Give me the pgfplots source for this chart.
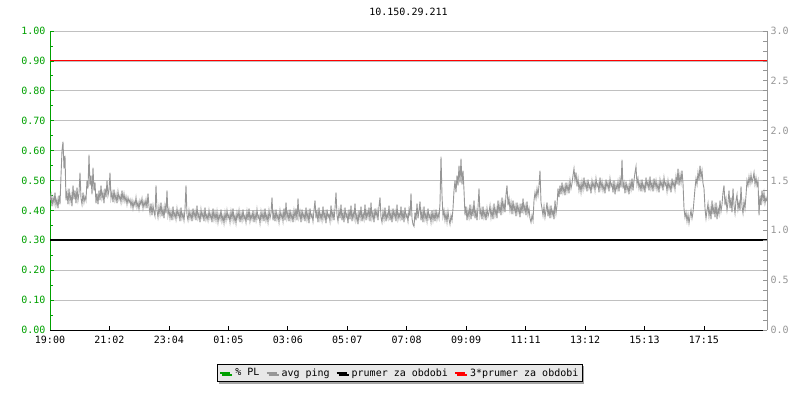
\documentclass[border=0pt]{standalone}
\usepackage{fontspec}
\setmainfont{DejaVu Sans Mono}
\usepackage{pgfplots}
\pgfplotsset{compat=1.18}
\usetikzlibrary{shadows}
\definecolor{plgreen}{RGB}{0,160,0}
\definecolor{pinggray}{RGB}{150,150,150}
\definecolor{gridgray}{RGB}{192,192,192}
\definecolor{leggray}{RGB}{232,232,232}
\begin{document}
\fontsize{10}{12}\selectfont
\begin{tikzpicture}[x=1pt,y=1pt]
\path[use as bounding box] (0,0) rectangle (800,400);
\begin{axis}[
  at={(50pt,70pt)}, anchor=south west,
  scale only axis, width=717pt, height=299pt,
  xmin=0, xmax=717, ymin=0, ymax=1,
  axis x line*=bottom, axis y line*=left,
  x axis line style={black, line width=0.8pt},
  y axis line style={plgreen, line width=0.8pt},
  tick align=inside, major tick length=4pt, minor tick length=3pt,
  ytick={0,0.1,...,1.01}, minor ytick={0.05,0.15,...,0.96},
  y tick style={plgreen, line width=0.8pt},
  x tick style={black, line width=0.8pt},
  ymajorgrids, grid style={gridgray, line width=0.8pt},
  xtick={0,59.45,118.9,178.35,237.8,297.25,356.7,416.15,475.6,535.05,594.5,653.95},
  xticklabels={19:00,21:02,23:04,01:05,03:06,05:07,07:08,09:09,11:11,13:12,15:13,17:15},
  /pgf/number format/assume math mode=true,
  yticklabel style={plgreen, /pgf/number format/.cd, fixed, fixed zerofill, precision=2},
  yticklabel shift=1pt,
  xticklabel shift=3pt,
  xticklabel style={black},
  tick label style={font=\fontsize{10}{12}\selectfont},
  title={10.150.29.211},
  title style={at={(axis description cs:0.5,1)}, anchor=center, yshift=13pt, font=\fontsize{10}{12}\selectfont},
  legend columns=4,
  legend style={at={(axis description cs:0.488,-0.1438)}, anchor=center,
    fill=leggray, draw=black, line width=0.8pt,
    drop shadow={shadow xshift=2pt, shadow yshift=-2pt, fill=gray!70, opacity=1},
    font=\fontsize{10}{12}\selectfont, inner sep=2pt,
    /tikz/every odd column/.append style={column sep=2pt},
    /tikz/every even column/.append style={column sep=4pt}},
  legend image code/.code={\draw[#1] (0pt,0pt) -- (10pt,0pt);},
]
\addlegendimage{plgreen, line width=2pt}
\addlegendentry{\% PL}
\addlegendimage{pinggray, line width=2pt}
\addlegendentry{avg ping}
\addplot[black, line width=2pt] coordinates {(0,0.3) (717,0.3)};
\addlegendentry{prumer za obdobi}
\addplot[red, line width=1pt, forget plot] coordinates {(0,0.9) (717,0.9)};
\addlegendimage{red, line width=2pt}
\addlegendentry{3*prumer za obdobi}
\end{axis}
\begin{axis}[
  at={(50pt,70pt)}, anchor=south west,
  scale only axis, width=717pt, height=299pt,
  xmin=0, xmax=717, ymin=0, ymax=3,
  axis x line=none, axis y line*=right,
  y axis line style={pinggray, line width=0.8pt},
  tick align=inside, major tick length=4pt, minor tick length=4pt,
  ytick={0,0.5,...,3.01}, minor ytick={0.1,0.2,0.3,0.4,0.6,0.7,0.8,0.9,1.1,1.2,1.3,1.4,1.6,1.7,1.8,1.9,2.1,2.2,2.3,2.4,2.6,2.7,2.8,2.9},
  y tick style={pinggray, line width=0.8pt},
  /pgf/number format/assume math mode=true,
  yticklabel style={pinggray, /pgf/number format/.cd, fixed, fixed zerofill, precision=1},
  tick label style={font=\fontsize{10}{12}\selectfont},
]
\addplot[pinggray, line width=0.9pt] coordinates {
(0,1.30)(1,1.36)(2,1.24)(3,1.33)(4,1.27)(5,1.38)(6,1.25)(7,1.31)(8,1.22)(9,1.35)(10,1.26)
(11,1.55)(12,1.80)(13,1.89)(14,1.62)(15,1.75)(16,1.30)
(17,1.38)(18,1.26)(19,1.42)(20,1.29)(21,1.36)(22,1.24)(23,1.45)(24,1.31)(25,1.40)(26,1.27)(27,1.43)(28,1.30)(29,1.37)(30,1.58)
(31,1.32)(32,1.26)(33,1.38)(34,1.28)(35,1.34)(36,1.30)
(37,1.50)(38,1.42)(39,1.76)(40,1.45)(41,1.55)(42,1.36)(43,1.63)(44,1.40)(45,1.48)
(46,1.27)(47,1.37)(48,1.26)(49,1.40)(50,1.30)(51,1.45)(52,1.32)(53,1.38)(54,1.27)(55,1.42)(56,1.33)(57,1.50)(58,1.35)
(59,1.40)(60,1.58)(61,1.32)(62,1.38)(63,1.28)(64,1.41)(65,1.30)(66,1.36)(67,1.27)(68,1.39)(69,1.31)(70,1.35)(71,1.28)(72,1.40)(73,1.30)(74,1.37)(75,1.29)(76,1.34)(77,1.26)(78,1.33)(79,1.28)(80,1.31)
(81,1.24)(82,1.30)(83,1.22)(84,1.29)(85,1.25)(86,1.33)(87,1.23)(88,1.28)(89,1.21)(90,1.30)(91,1.26)(92,1.32)(93,1.22)(94,1.29)(95,1.24)(96,1.31)(97,1.22)(98,1.37)
(99,1.24)(100,1.17)(101,1.27)(102,1.15)(103,1.25)(104,1.18)(105,1.14)(106,1.45)(107,1.20)(108,1.13)(109,1.24)(110,1.16)(111,1.28)(112,1.14)(113,1.22)(114,1.12)(115,1.25)(116,1.17)(117,1.40)(118,1.15)
(119,1.21)(120,1.12)(121,1.19)(122,1.10)(123,1.24)(124,1.13)(125,1.18)(126,1.11)(127,1.22)(128,1.14)(129,1.19)(130,1.09)(131,1.23)(132,1.12)(133,1.17)(134,1.10)(135,1.21)(136,1.45)(137,1.15)(138,1.10)(139,1.20)(140,1.12)(141,1.18)(142,1.09)(143,1.22)(144,1.13)(145,1.19)(146,1.10)(147,1.25)(148,1.12)(149,1.17)(150,1.08)(151,1.21)(152,1.13)(153,1.18)(154,1.09)(155,1.23)(156,1.11)(157,1.16)(158,1.10)(159,1.20)(160,1.12)(161,1.17)(162,1.08)(163,1.22)(164,1.11)(165,1.18)
(166,1.10)(167,1.19)(168,1.08)(169,1.16)(170,1.11)(171,1.21)(172,1.09)(173,1.15)(174,1.07)(175,1.18)(176,1.10)(177,1.20)(178,1.12)(179,1.16)(180,1.08)(181,1.19)(182,1.11)(183,1.22)(184,1.09)(185,1.15)(186,1.07)(187,1.18)(188,1.12)(189,1.20)(190,1.08)(191,1.17)(192,1.10)(193,1.21)(194,1.11)(195,1.15)(196,1.08)(197,1.19)(198,1.10)(199,1.22)(200,1.09)(201,1.16)(202,1.11)(203,1.20)(204,1.08)(205,1.17)(206,1.10)(207,1.21)(208,1.12)(209,1.15)(210,1.07)(211,1.19)(212,1.11)(213,1.18)(214,1.09)(215,1.22)(216,1.10)(217,1.16)(218,1.08)(219,1.20)(220,1.12)(221,1.17)(222,1.33)(223,1.10)(224,1.18)(225,1.09)(226,1.21)(227,1.11)(228,1.16)(229,1.08)(230,1.20)(231,1.12)(232,1.17)(233,1.09)(234,1.22)(235,1.10)(236,1.28)(237,1.12)(238,1.18)(239,1.09)(240,1.21)(241,1.11)(242,1.17)(243,1.08)
(244,1.20)(245,1.12)(246,1.22)(247,1.10)(248,1.32)(249,1.13)(250,1.19)(251,1.08)(252,1.21)(253,1.12)(254,1.17)(255,1.09)(256,1.23)(257,1.11)(258,1.18)(259,1.07)(260,1.22)(261,1.13)(262,1.16)(263,1.09)(264,1.20)(265,1.30)(266,1.12)(267,1.19)(268,1.08)(269,1.23)(270,1.11)(271,1.17)(272,1.10)(273,1.24)(274,1.12)(275,1.18)(276,1.07)(277,1.21)(278,1.13)(279,1.16)(280,1.09)(281,1.25)(282,1.12)(283,1.19)(284,1.10)(285,1.22)(286,1.38)(287,1.15)(288,1.09)(289,1.20)(290,1.12)(291,1.26)(292,1.10)(293,1.18)(294,1.08)(295,1.23)(296,1.13)(297,1.17)(298,1.07)(299,1.21)(300,1.11)(301,1.25)(302,1.09)(303,1.18)(304,1.12)(305,1.27)(306,1.10)(307,1.16)(308,1.06)(309,1.20)(310,1.12)(311,1.24)(312,1.09)(313,1.17)(314,1.11)(315,1.26)(316,1.10)(317,1.19)(318,1.13)(319,1.23)(320,1.09)(321,1.28)(322,1.12)(323,1.18)(324,1.08)(325,1.22)(326,1.14)(327,1.20)(328,1.10)(329,1.24)(330,1.33)(331,1.13)(332,1.08)(333,1.19)(334,1.11)(335,1.23)(336,1.09)(337,1.17)(338,1.12)(339,1.25)(340,1.10)(341,1.18)(342,1.08)(343,1.22)(344,1.13)(345,1.19)(346,1.09)(347,1.26)(348,1.11)(349,1.17)(350,1.12)(351,1.24)(352,1.10)(353,1.20)(354,1.08)(355,1.23)(356,1.13)(357,1.16)(358,1.09)(359,1.21)(360,1.14)(361,1.37)(362,1.12)(363,1.06)(364,1.04)(365,1.18)(366,1.10)(367,1.27)(368,1.12)(369,1.20)(370,1.29)(371,1.10)(372,1.19)(373,1.08)(374,1.24)(375,1.11)(376,1.17)(377,1.09)(378,1.22)(379,1.12)(380,1.16)(381,1.08)(382,1.20)(383,1.10)(384,1.18)(385,1.09)(386,1.21)(387,1.11)(388,1.17)(389,1.12)(390,1.27)
(391,1.74)(392,1.35)(393,1.14)(394,1.20)(395,1.10)(396,1.17)(397,1.08)(398,1.19)(399,1.11)(400,1.06)(401,1.15)(402,1.10)(403,1.22)(404,1.40)(405,1.50)(406,1.38)(407,1.55)(408,1.45)(409,1.65)(410,1.48)(411,1.72)(412,1.46)(413,1.60)(414,1.40)(415,1.15)(416,1.24)(417,1.10)(418,1.20)(419,1.13)(420,1.26)(421,1.11)(422,1.22)(423,1.14)(424,1.30)(425,1.12)(426,1.20)(427,1.10)(428,1.23)(429,1.42)(430,1.15)(431,1.21)(432,1.11)(433,1.24)(434,1.13)(435,1.19)(436,1.10)(437,1.22)(438,1.14)(439,1.18)(440,1.25)(441,1.13)(442,1.21)(443,1.11)(444,1.27)(445,1.15)(446,1.22)(447,1.12)(448,1.30)(449,1.17)(450,1.26)(451,1.15)(452,1.33)(453,1.20)(454,1.28)(455,1.18)(456,1.36)(457,1.45)(458,1.25)(459,1.32)(460,1.20)(461,1.28)(462,1.16)(463,1.30)(464,1.19)(465,1.25)(466,1.14)(467,1.28)(468,1.18)(469,1.24)(470,1.13)(471,1.27)(472,1.17)(473,1.32)(474,1.19)(475,1.25)(476,1.15)(477,1.29)(478,1.16)(479,1.22)(480,1.12)(481,1.08)(482,1.15)(483,1.10)(484,1.30)(485,1.38)(486,1.32)(487,1.42)(488,1.35)(489,1.45)(490,1.60)(491,1.28)(492,1.22)(493,1.15)(494,1.24)(495,1.13)(496,1.20)(497,1.28)(498,1.14)(499,1.22)(500,1.12)(501,1.25)(502,1.15)(503,1.20)(504,1.11)(505,1.30)(506,1.17)(507,1.25)(508,1.42)(509,1.33)(510,1.45)(511,1.36)(512,1.48)(513,1.38)(514,1.44)(515,1.35)(516,1.48)(517,1.39)(518,1.46)(519,1.37)(520,1.50)(521,1.42)(522,1.47)(523,1.55)(524,1.62)(525,1.50)(526,1.58)(527,1.44)(528,1.52)(529,1.40)(530,1.47)(531,1.38)(532,1.49)(533,1.41)(534,1.53)(535,1.43)(536,1.48)(537,1.39)(538,1.51)(539,1.42)(540,1.46)(541,1.37)(542,1.50)(543,1.43)(544,1.48)(545,1.40)(546,1.52)(547,1.44)(548,1.47)(549,1.38)(550,1.53)(551,1.42)(552,1.49)(553,1.40)(554,1.46)(555,1.37)(556,1.51)(557,1.43)(558,1.48)(559,1.39)(560,1.52)(561,1.44)(562,1.47)(563,1.38)(564,1.50)(565,1.36)(566,1.46)(567,1.41)(568,1.49)(569,1.39)(570,1.51)(571,1.43)(572,1.71)(573,1.42)(574,1.48)(575,1.37)(576,1.49)(577,1.40)(578,1.45)(579,1.36)(580,1.48)(581,1.41)(582,1.52)(583,1.40)(584,1.50)(585,1.58)(586,1.64)(587,1.46)(588,1.52)(589,1.42)(590,1.48)(591,1.39)(592,1.51)(593,1.41)(594,1.46)(595,1.38)(596,1.53)(597,1.44)(598,1.49)(599,1.40)(600,1.54)(601,1.42)(602,1.48)(603,1.39)(604,1.52)(605,1.43)(606,1.50)(607,1.41)(608,1.47)(609,1.38)(610,1.51)(611,1.44)(612,1.49)(613,1.40)(614,1.53)(615,1.45)(616,1.48)(617,1.39)(618,1.50)(619,1.42)(620,1.47)(621,1.38)(622,1.52)(623,1.44)(624,1.49)(625,1.41)(626,1.54)(627,1.46)(628,1.62)(629,1.45)(630,1.56)(631,1.48)(632,1.60)(633,1.47)(634,1.22)(635,1.13)(636,1.18)(637,1.09)(638,1.16)(639,1.07)(640,1.14)(641,1.20)(642,1.12)(643,1.18)(644,1.30)(645,1.42)(646,1.52)(647,1.46)(648,1.58)(649,1.50)(650,1.65)(651,1.53)(652,1.60)(653,1.47)(654,1.42)(655,1.22)(656,1.12)(657,1.20)(658,1.27)(659,1.14)(660,1.22)(661,1.11)(662,1.30)(663,1.16)(664,1.24)(665,1.13)(666,1.28)(667,1.11)(668,1.22)(669,1.16)(670,1.30)(671,1.19)(672,1.26)(673,1.38)(674,1.45)(675,1.25)(676,1.32)(677,1.20)(678,1.28)(679,1.40)(680,1.22)(681,1.33)(682,1.18)(683,1.42)(684,1.25)(685,1.17)(686,1.30)(687,1.36)(688,1.21)(689,1.28)(690,1.20)(691,1.44)(692,1.24)(693,1.17)(694,1.29)(695,1.22)(696,1.35)(697,1.50)(698,1.45)(699,1.54)(700,1.47)(701,1.56)(702,1.48)(703,1.52)(704,1.58)(705,1.46)(706,1.53)(707,1.45)(708,1.50)(709,1.15)(710,1.35)(711,1.25)(712,1.40)(713,1.30)(714,1.38)(715,1.27)(716,1.33)(717,1.29)
};
\end{axis}
\end{tikzpicture}
\end{document}
